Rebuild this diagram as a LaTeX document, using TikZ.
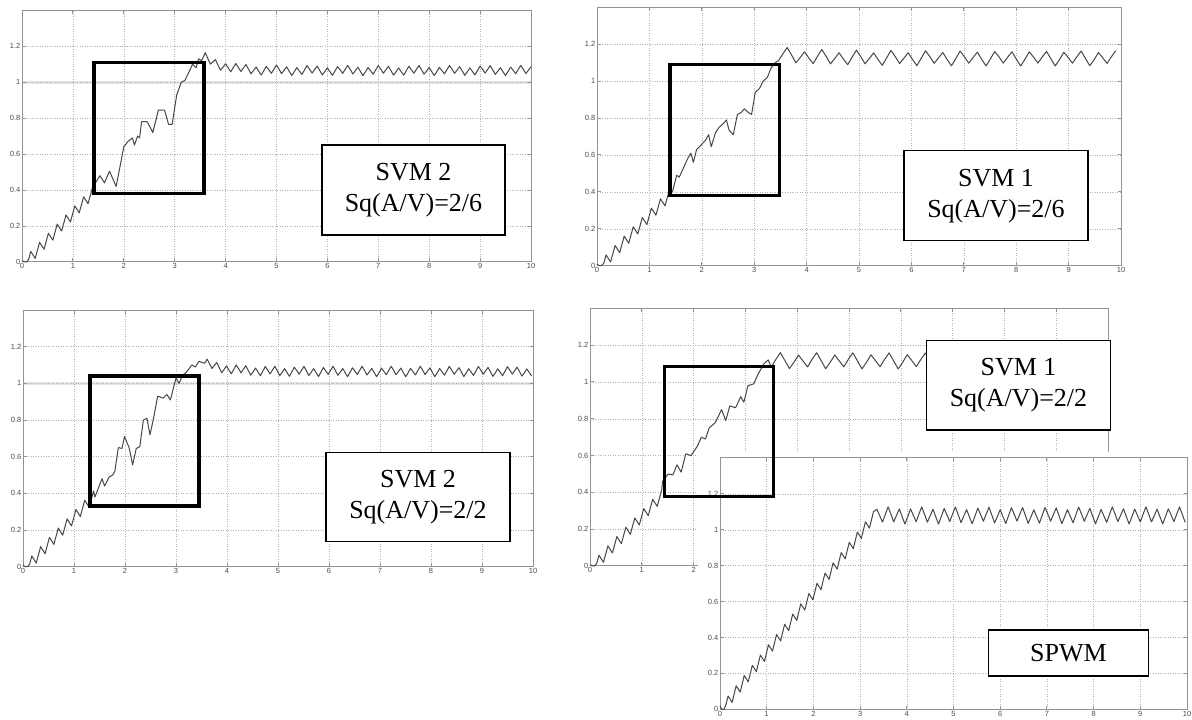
\documentclass[tikz,border=0pt]{standalone}
\usepackage{fontspec}
\setmainfont{Liberation Serif}
\setsansfont{Liberation Sans}

\begin{document}
\begin{tikzpicture}[
    x=1pt, y=1pt,
    declare function={tw(\t)=2*abs(2*(\t-floor(\t))-1)-1;},
    axisline/.style={draw=gray!85, line width=1pt},
    gridline/.style={draw=gray!60, dotted, line width=0.5pt},
    tick/.style={font=\sffamily\fontsize{7.5}{8}\selectfont, text=black!70, inner sep=1.5pt},
    signal/.style={draw=black!72, line width=1pt, line join=round},
    band/.style={draw=gray!20, line width=3pt},
    zoombox/.style={draw=black, line width=3.5pt},
    legend/.style={draw=black, line width=1.4pt, fill=white, align=center, inner sep=0pt, font=\fontsize{26}{31}\selectfont},
    pics/scopeaxes/.style={code={
        \foreach \i in {1,...,9} \draw[gridline] (\i,0) -- (\i,1.4);
        \foreach \j in {0.2,0.4,0.6,0.8,1,1.2} \draw[gridline] (0,\j) -- (10,\j);
        \foreach \i in {0,...,10} {
            \draw[axisline] (\i,0) -- ++(0,3.5pt) (\i,1.4) -- ++(0,-3.5pt);
            \node[tick, below] (x\i) at (\i,0) {\i};
        }
        \foreach \j [count=\k] in {0,0.2,0.4,0.6,0.8,1,1.2} {
            \draw[axisline] (0,\j) -- ++(3.5pt,0) (10,\j) -- ++(-3.5pt,0);
            \node[tick, left] (y\k) at (0,\j) {\j};
        }
        \draw[axisline] (0,0) rectangle (10,1.4);
    }}
    ]

    \fill[white] (0,0) rectangle (1192,720);
    \useasboundingbox (0,0) rectangle (1192,720);

    \begin{scope}[shift={(22,458)}, x=50.9pt, y=179.8pt]
        \draw[band] (0,1) -- (10,1);
        \pic (svmA) {scopeaxes};
        \draw[signal] plot[domain=0:1.384, samples=33] (\x,{max(0,0.293*\x-0.024+0.032*tw(\x/0.173))})
            -- (1.53,0.48) -- (1.62,0.44) -- (1.72,0.505) -- (1.85,0.42) -- (2.0,0.64) -- (2.08,0.67)
            -- (2.17,0.69) -- (2.21,0.65) -- (2.27,0.7) -- (2.31,0.69) -- (2.35,0.78) -- (2.46,0.78)
            -- (2.57,0.72) -- (2.68,0.845) -- (2.8,0.845) -- (2.88,0.765) -- (2.95,0.765) -- (3.04,0.93)
            -- (3.13,1.0) -- (3.2,1.01) -- (3.27,1.05) -- (3.35,1.1) -- (3.42,1.08) -- (3.47,1.13) -- (3.53,1.12)
            -- plot[domain=3.6:10, samples=129] (\x,{1.065+0.07*exp(-(\x-3.6)/0.35)+0.022*tw(\x/0.2)+0.007*sin(\x*523)});
        \draw[zoombox] (1.41,0.38) rectangle (3.58,1.11);
    \end{scope}
    \node[legend, minimum width=183pt, minimum height=90pt] (svmAlabel) at (413.5,530) {SVM 2\\Sq(A/V)=2/6};

    \begin{scope}[shift={(597,454.3)}, x=52.4pt, y=184.5pt]
        \pic (svmB) {scopeaxes};
        \draw[signal] plot[domain=0:1.384, samples=33] (\x,{max(0,0.293*\x-0.024+0.032*tw(\x/0.173))})
            -- (1.44,0.4) -- (1.52,0.49) -- (1.57,0.48) -- (1.65,0.53) -- (1.73,0.58) -- (1.79,0.61)
            -- (1.84,0.56) -- (1.9,0.63) -- (1.99,0.655) -- (2.07,0.68) -- (2.13,0.71) -- (2.18,0.645)
            -- (2.26,0.72) -- (2.33,0.75) -- (2.41,0.77) -- (2.47,0.79) -- (2.52,0.735) -- (2.6,0.71)
            -- (2.68,0.82) -- (2.75,0.83) -- (2.81,0.85) -- (2.89,0.83) -- (2.95,0.82) -- (3.02,0.94)
            -- (3.1,0.96) -- (3.17,1.0) -- (3.25,1.02) -- (3.32,1.07) -- (3.4,1.1)
            -- plot[domain=3.465:9.9, samples=79] (\x,{1.125+0.02*exp(-(\x-3.465)/0.5)+0.035*tw(\x/0.33)+0.008*sin(\x*523)});
        \draw[zoombox] (1.39,0.38) rectangle (3.48,1.09);
    \end{scope}
    \node[legend, minimum width=184pt, minimum height=90pt] (svmBlabel) at (996,524.3) {SVM 1\\Sq(A/V)=2/6};

    \begin{scope}[shift={(23,153.3)}, x=51pt, y=183.3pt]
        \draw[band] (0,1) -- (10,1);
        \pic (svmC) {scopeaxes};
        \draw[signal] plot[domain=0:1.384, samples=33] (\x,{max(0,0.293*\x-0.024+0.032*tw(\x/0.173))})
            -- (1.41,0.38) -- (1.55,0.48) -- (1.6,0.44) -- (1.69,0.49) -- (1.76,0.5) -- (1.8,0.52)
            -- (1.87,0.65) -- (1.94,0.645) -- (1.99,0.71) -- (2.08,0.65) -- (2.15,0.555) -- (2.22,0.645)
            -- (2.29,0.655) -- (2.36,0.8) -- (2.43,0.81) -- (2.49,0.72) -- (2.56,0.81) -- (2.64,0.93)
            -- (2.75,0.92) -- (2.82,0.94) -- (2.89,0.91) -- (3.0,1.03) -- (3.06,1.0) -- (3.13,1.045)
            -- (3.2,1.06) -- (3.31,1.1) -- (3.38,1.09) -- (3.45,1.12) -- (3.56,1.11)
            -- plot[domain=3.61:9.975, samples=135] (\x,{1.065+0.04*exp(-(\x-3.61)/0.4)+0.022*tw(\x/0.19)+0.007*sin(\x*611)});
        \draw[zoombox] (1.31,0.33) rectangle (3.45,1.04);
    \end{scope}
    \node[legend, minimum width=184pt, minimum height=89pt] (svmClabel) at (418,223) {SVM 2\\Sq(A/V)=2/2};

    \begin{scope}[shift={(590,154)}, x=51.8pt, y=184pt]
        \pic (svmD) {scopeaxes};
        \draw[signal] plot[domain=0:1.384, samples=33] (\x,{max(0,0.293*\x-0.024+0.032*tw(\x/0.173))})
            -- (1.4,0.46) -- (1.51,0.5) -- (1.6,0.495) -- (1.68,0.55) -- (1.76,0.51) -- (1.85,0.61)
            -- (1.95,0.6) -- (2.07,0.65) -- (2.15,0.7) -- (2.23,0.69) -- (2.3,0.75) -- (2.42,0.78)
            -- (2.54,0.85) -- (2.62,0.79) -- (2.7,0.87) -- (2.81,0.86) -- (2.91,0.92) -- (2.97,0.89)
            -- (3.05,0.98) -- (3.16,0.99) -- (3.24,1.04) -- (3.36,1.1) -- (3.44,1.12)
            -- plot[domain=3.5:9.975, samples=75] (\x,{1.115+0.038*tw(\x/0.35+0.5)+0.008*sin(\x*523)});
    \end{scope}
    \node[legend, minimum width=183.5pt, minimum height=89.3pt] (svmDlabel) at (1018.5,334.7) {SVM 1\\Sq(A/V)=2/2};

    \fill[white] (698,0) rectangle (1192,268);
    \begin{scope}[shift={(720,10.7)}, x=46.7pt, y=179.5pt]
        \pic (spwm) {scopeaxes};
        \draw[signal] plot[domain=0:3.287, samples=77] (\x,{max(0,0.33*\x-0.015+0.032*tw(\x/0.173))})
            -- plot[domain=3.36:9.96, samples=111] (\x,{1.08+0.04*tw(\x/0.24)+0.008*sin(\x*523)});
    \end{scope}
    \node[legend, minimum width=160pt, minimum height=46pt] (spwmlabel) at (1068.5,67) {SPWM};

    \draw[zoombox] (664.5,223.3) rectangle (773.5,353.3);

\end{tikzpicture}
\end{document}
